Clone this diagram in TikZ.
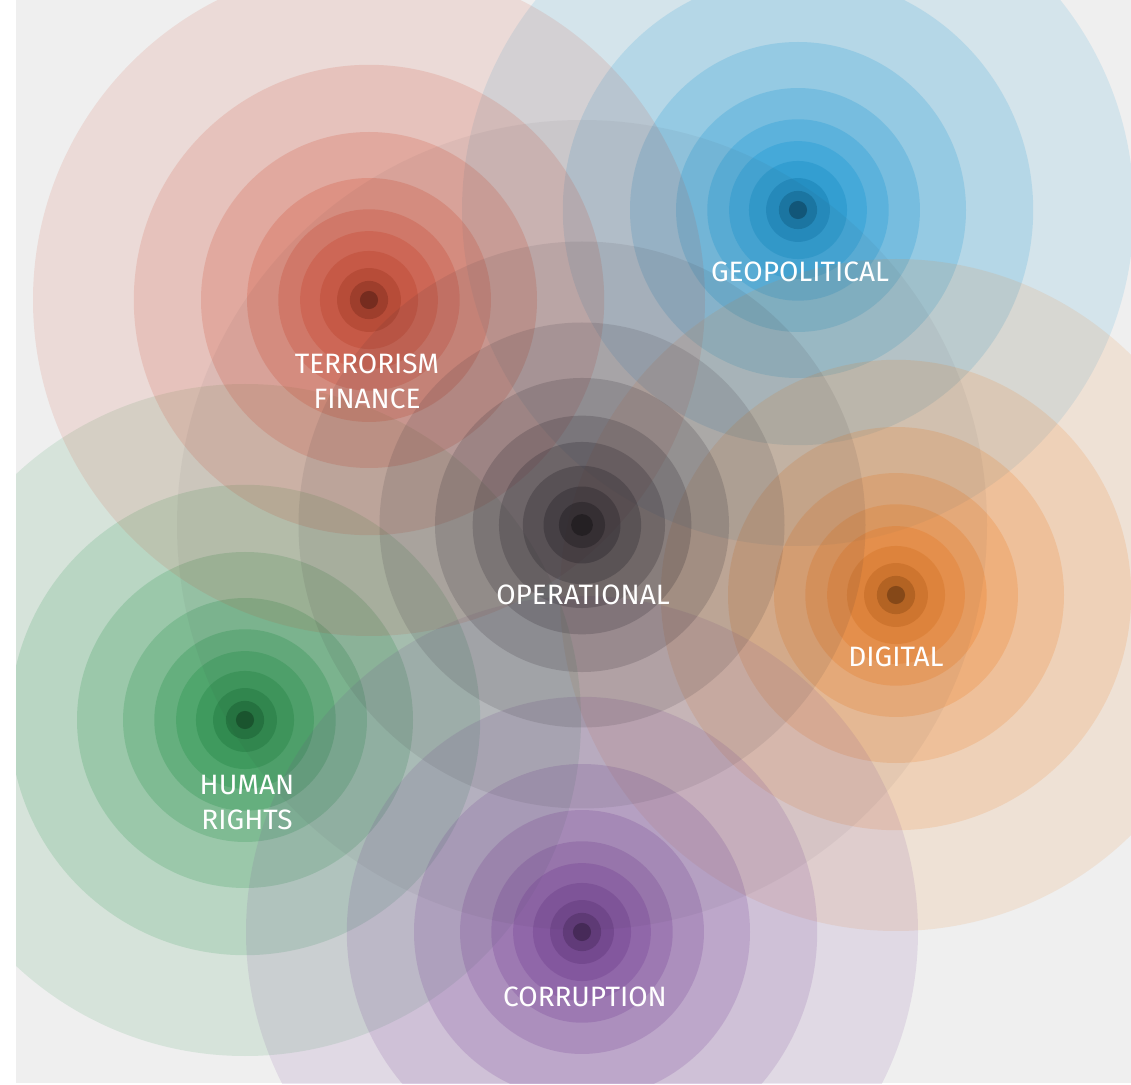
\documentclass[tikz,border=0pt]{standalone}
\usepackage{fontspec}
\setmainfont{Fira Sans}

\definecolor{paper}{RGB}{239,239,239}
\definecolor{riskred}{RGB}{208,70,44}
\definecolor{riskblue}{RGB}{20,150,212}
\definecolor{riskgrey}{RGB}{50,44,52}
\definecolor{riskorange}{RGB}{238,124,32}
\definecolor{riskgreen}{RGB}{34,146,72}
\definecolor{riskpurple}{RGB}{118,64,150}

% concentric rings: x, y, outer radius, colour, outer opacity
\newcommand{\riskrings}[5]{%
  \foreach \f/\ringmix [count=\k from 0] in
    {1/100,.70/100,.50/100,.363/100,.27/100,.205/100,.146/92,.095/80,.057/62,.027/35}{
    \pgfmathsetmacro{\ringop}{#5+(0.46-#5)*\k/9}
    \fill[#4!\ringmix!black,fill opacity=\ringop] (#1,#2) circle ({#3*\f});
  }}

\tikzset{
  risklabel/.style={text=white,align=center,inner sep=0pt,
    font=\fontsize{14}{17.5}\selectfont}
}

\begin{document}
\begin{tikzpicture}[x=0.5pt,y=-0.5pt]
  \useasboundingbox (0,0) rectangle (1131,1085);
  \fill[white] (0,0) rectangle (1131,1085);
  \fill[paper] (16,0) rectangle (1131,1083);

  % --- the six risk targets ---
  \begin{scope}
    \clip (16,0) rectangle (1131,1083);
    \riskrings{798}{210}{336}{riskblue}{0.12}
    \riskrings{896}{595}{336}{riskorange}{0.12}
    \riskrings{245}{720}{336}{riskgreen}{0.12}
    \riskrings{582}{932}{336}{riskpurple}{0.12}
    \riskrings{369}{300}{336}{riskred}{0.12}
    \riskrings{582}{525}{405}{riskgrey}{0.05}
  \end{scope}

  % --- labels ---
  \node[risklabel] (geo)  at (800,272) {GEOPOLITICAL};
  \node[risklabel] (terr) at (367,381) {TERRORISM\\FINANCE};
  \node[risklabel] (oper) at (583,595) {OPERATIONAL};
  \node[risklabel] (digi) at (896,657) {DIGITAL};
  \node[risklabel] (hum)  at (247,803) {HUMAN\\RIGHTS};
  \node[risklabel] (corr) at (585,997) {CORRUPTION};
\end{tikzpicture}
\end{document}
